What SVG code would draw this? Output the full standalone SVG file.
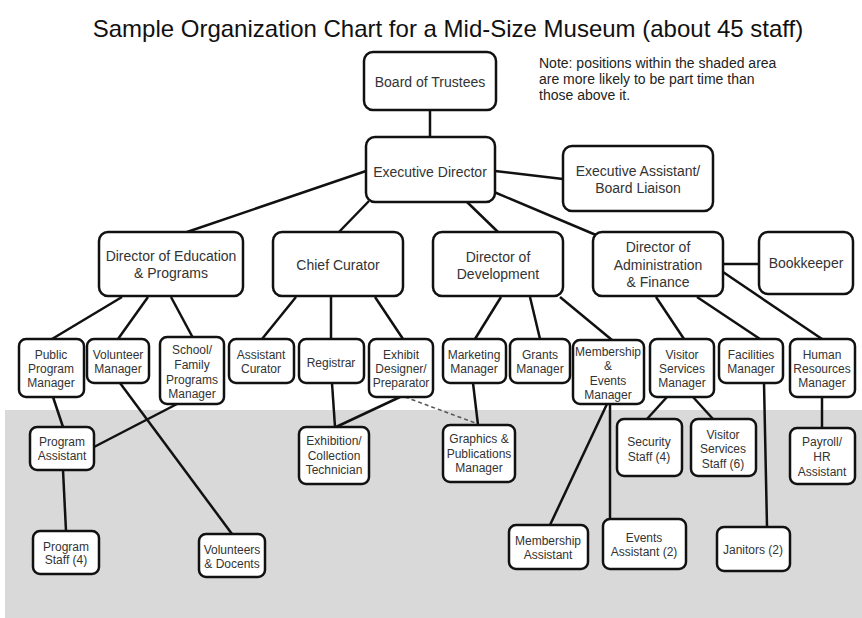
<svg xmlns="http://www.w3.org/2000/svg" width="862" height="618" viewBox="0 0 862 618">
<style>
.bg{fill:#ffffff}
.shade{fill:#d9d9d9}
.box{fill:#ffffff;stroke:#111;stroke-width:2.5}
.t{font-family:"Liberation Sans",Arial,sans-serif;fill:#333;text-anchor:middle}
.l{font-size:14px}
.s{font-size:12px}
.ln{stroke:#111;stroke-width:2.5;fill:none}
.dash{stroke:#555;stroke-width:1.5;stroke-dasharray:4 3;fill:none}
.title{font-family:"Liberation Sans",Arial,sans-serif;font-size:24px;fill:#111;text-anchor:middle}
.note{font-family:"Liberation Sans",Arial,sans-serif;font-size:14px;fill:#222}
</style>
<rect class="bg" x="0" y="0" width="862" height="618"/>
<rect class="shade" x="5" y="410" width="857" height="208"/>
<text class="title" x="448" y="37">Sample Organization Chart for a Mid-Size Museum (about 45 staff)</text>
<text class="note" x="539" y="68">Note: positions within the shaded area</text>
<text class="note" x="539" y="84">are more likely to be part time than</text>
<text class="note" x="539" y="100">those above it.</text>

<g id="connectors">
<line class="ln" x1="430" y1="110" x2="430" y2="137"/>
<line class="ln" x1="495" y1="171" x2="563" y2="179"/>
<line class="ln" x1="366" y1="171" x2="187" y2="232"/>
<line class="ln" x1="369" y1="201" x2="339" y2="232"/>
<line class="ln" x1="467" y1="202" x2="498" y2="232"/>
<line class="ln" x1="494" y1="192" x2="596" y2="235"/>
<line class="ln" x1="723" y1="264" x2="759" y2="264"/>
<line class="ln" x1="122" y1="297" x2="52" y2="339"/>
<line class="ln" x1="148" y1="297" x2="118" y2="339"/>
<line class="ln" x1="171" y1="297" x2="193" y2="338"/>
<line class="ln" x1="296" y1="297" x2="262" y2="339"/>
<line class="ln" x1="331" y1="297" x2="331" y2="339"/>
<line class="ln" x1="375" y1="297" x2="403" y2="339"/>
<line class="ln" x1="501" y1="297" x2="475" y2="339"/>
<line class="ln" x1="530" y1="297" x2="540" y2="339"/>
<line class="ln" x1="560" y1="297" x2="612" y2="340"/>
<line class="ln" x1="656" y1="297" x2="684" y2="339"/>
<line class="ln" x1="697" y1="297" x2="760" y2="339"/>
<line class="ln" x1="723" y1="272" x2="822" y2="339"/>
<line class="ln" x1="53" y1="397" x2="63" y2="427"/>
<line class="ln" x1="177" y1="404" x2="94" y2="447"/>
<line class="ln" x1="120" y1="383" x2="232" y2="534"/>
<line class="ln" x1="332" y1="383" x2="335" y2="427"/>
<line class="ln" x1="400" y1="397" x2="336" y2="427"/>
<line class="dash" x1="405" y1="397" x2="478" y2="424"/>
<line class="ln" x1="473" y1="383" x2="478" y2="425"/>
<line class="ln" x1="607" y1="404" x2="550" y2="525"/>
<line class="ln" x1="610" y1="404" x2="610" y2="519"/>
<line class="ln" x1="667" y1="397" x2="647" y2="419"/>
<line class="ln" x1="693" y1="397" x2="713" y2="419"/>
<line class="ln" x1="764" y1="383" x2="767" y2="527"/>
<line class="ln" x1="822" y1="397" x2="822" y2="428"/>
<line class="ln" x1="63" y1="470" x2="66" y2="531"/>
</g>

<g id="board"><rect class="box" x="364" y="52" width="132" height="58" rx="9"/><text class="t l" x="430" y="87">Board of Trustees</text></g>
<g id="exec"><rect class="box" x="366" y="137" width="129" height="65" rx="9"/><text class="t l" x="430" y="177">Executive Director</text></g>
<g id="execasst"><rect class="box" x="563" y="146" width="150" height="65" rx="9"/><text class="t l" x="638" y="176">Executive Assistant/</text><text class="t l" x="638" y="193">Board Liaison</text></g>

<g id="dired"><rect class="box" x="99" y="232" width="144" height="64" rx="9"/><text class="t l" x="171" y="261">Director of Education</text><text class="t l" x="171" y="278">&amp; Programs</text></g>
<g id="curator"><rect class="box" x="273" y="232" width="130" height="64" rx="9"/><text class="t l" x="338" y="270">Chief Curator</text></g>
<g id="dev"><rect class="box" x="433" y="232" width="130" height="64" rx="9"/><text class="t l" x="498" y="262">Director of</text><text class="t l" x="498" y="279">Development</text></g>
<g id="admin"><rect class="box" x="593" y="232" width="130" height="64" rx="9"/><text class="t l" x="658" y="252">Director of</text><text class="t l" x="658" y="270">Administration</text><text class="t l" x="658" y="287">&amp; Finance</text></g>
<g id="bookkeeper"><rect class="box" x="759" y="232" width="94" height="62" rx="9"/><text class="t l" x="806" y="268">Bookkeeper</text></g>

<g id="pubprog"><rect class="box" x="19" y="339" width="65" height="58" rx="7"/><text class="t s" x="51" y="359">Public</text><text class="t s" x="51" y="373">Program</text><text class="t s" x="51" y="387">Manager</text></g>
<g id="volmgr"><rect class="box" x="87" y="339" width="62" height="44" rx="7"/><text class="t s" x="118" y="359">Volunteer</text><text class="t s" x="118" y="373">Manager</text></g>
<g id="school"><rect class="box" x="160" y="337" width="64" height="67" rx="7"/><text class="t s" x="192" y="354">School/</text><text class="t s" x="192" y="369">Family</text><text class="t s" x="192" y="384">Programs</text><text class="t s" x="192" y="398">Manager</text></g>
<g id="asstcur"><rect class="box" x="229" y="339" width="65" height="44" rx="7"/><text class="t s" x="261" y="359">Assistant</text><text class="t s" x="261" y="373">Curator</text></g>
<g id="registrar"><rect class="box" x="299" y="339" width="65" height="44" rx="7"/><text class="t s" x="331" y="367">Registrar</text></g>
<g id="exhibit"><rect class="box" x="369" y="339" width="64" height="58" rx="7"/><text class="t s" x="401" y="359">Exhibit</text><text class="t s" x="401" y="373">Designer/</text><text class="t s" x="401" y="387">Preparator</text></g>
<g id="marketing"><rect class="box" x="443" y="339" width="63" height="44" rx="7"/><text class="t s" x="474" y="359">Marketing</text><text class="t s" x="474" y="373">Manager</text></g>
<g id="grants"><rect class="box" x="510" y="339" width="60" height="44" rx="7"/><text class="t s" x="540" y="359">Grants</text><text class="t s" x="540" y="373">Manager</text></g>
<g id="memevents"><rect class="box" x="573" y="340" width="71" height="64" rx="7"/><text class="t s" x="608" y="356">Membership</text><text class="t s" x="608" y="370">&amp;</text><text class="t s" x="608" y="385">Events</text><text class="t s" x="608" y="399">Manager</text></g>
<g id="vsm"><rect class="box" x="650" y="339" width="64" height="58" rx="7"/><text class="t s" x="682" y="359">Visitor</text><text class="t s" x="682" y="373">Services</text><text class="t s" x="682" y="387">Manager</text></g>
<g id="facilities"><rect class="box" x="719" y="339" width="64" height="44" rx="7"/><text class="t s" x="751" y="359">Facilities</text><text class="t s" x="751" y="373">Manager</text></g>
<g id="hr"><rect class="box" x="790" y="339" width="65" height="58" rx="7"/><text class="t s" x="822" y="359">Human</text><text class="t s" x="822" y="373">Resources</text><text class="t s" x="822" y="387">Manager</text></g>

<g id="progasst"><rect class="box" x="30" y="427" width="64" height="43" rx="7"/><text class="t s" x="62" y="446">Program</text><text class="t s" x="62" y="460">Assistant</text></g>
<g id="exhtech"><rect class="box" x="299" y="427" width="70" height="57" rx="7"/><text class="t s" x="334" y="445">Exhibition/</text><text class="t s" x="334" y="460">Collection</text><text class="t s" x="334" y="474">Technician</text></g>
<g id="graphics"><rect class="box" x="443" y="425" width="72" height="57" rx="7"/><text class="t s" x="479" y="443">Graphics &amp;</text><text class="t s" x="479" y="458">Publications</text><text class="t s" x="479" y="472">Manager</text></g>
<g id="security"><rect class="box" x="617" y="419" width="65" height="57" rx="7"/><text class="t s" x="649" y="446">Security</text><text class="t s" x="649" y="461">Staff (4)</text></g>
<g id="vsstaff"><rect class="box" x="691" y="419" width="65" height="57" rx="7"/><text class="t s" x="723" y="439">Visitor</text><text class="t s" x="723" y="453">Services</text><text class="t s" x="723" y="468">Staff (6)</text></g>
<g id="payroll"><rect class="box" x="790" y="428" width="65" height="56" rx="7"/><text class="t s" x="822" y="446">Payroll/</text><text class="t s" x="822" y="461">HR</text><text class="t s" x="822" y="476">Assistant</text></g>

<g id="progstaff"><rect class="box" x="33" y="531" width="66" height="43" rx="7"/><text class="t s" x="66" y="551">Program</text><text class="t s" x="66" y="564">Staff (4)</text></g>
<g id="volunteers"><rect class="box" x="199" y="534" width="66" height="43" rx="7"/><text class="t s" x="232" y="554">Volunteers</text><text class="t s" x="232" y="568">&amp; Docents</text></g>
<g id="memasst"><rect class="box" x="509" y="525" width="79" height="44" rx="7"/><text class="t s" x="548" y="545">Membership</text><text class="t s" x="548" y="559">Assistant</text></g>
<g id="eventsasst"><rect class="box" x="603" y="519" width="83" height="50" rx="7"/><text class="t s" x="644" y="542">Events</text><text class="t s" x="644" y="556">Assistant (2)</text></g>
<g id="janitors"><rect class="box" x="717" y="527" width="73" height="44" rx="7"/><text class="t s" x="753" y="554">Janitors (2)</text></g>
</svg>
